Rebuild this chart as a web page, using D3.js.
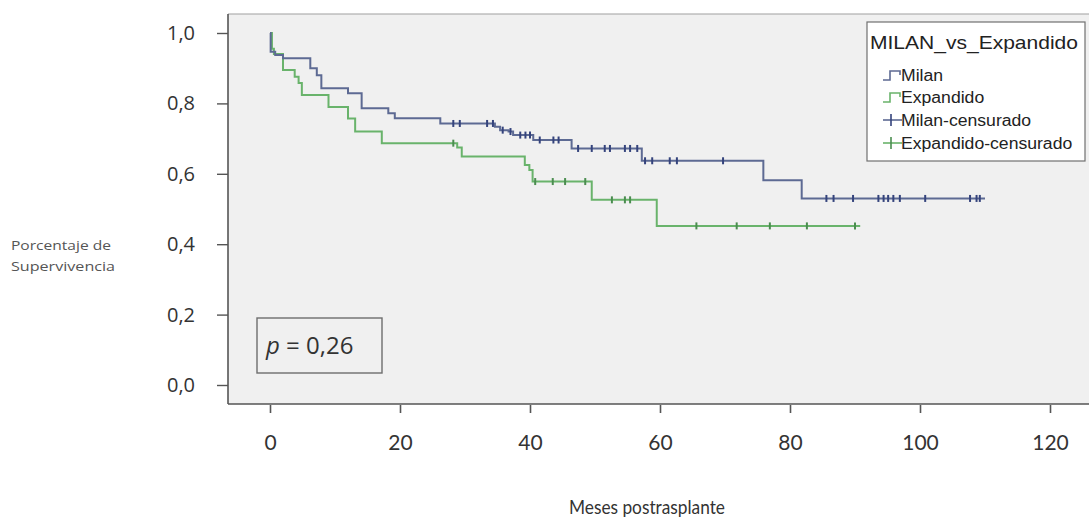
<!DOCTYPE html>
<html>
<head>
<meta charset="utf-8">
<script src="https://cdn.jsdelivr.net/npm/d3@7"></script>
<style>
  html, body { margin: 0; padding: 0; background: #ffffff; }
  svg { display: block; }
</style>
</head>
<body>
<svg id="chart" width="1089" height="520"></svg>
<script>
// ---- Data ----
const seriesNames = ["Milan", "Expandido"];
const legendTitle = "MILAN_vs_Expandido";
const legendLabels = ["Milan", "Expandido", "Milan-censurado", "Expandido-censurado"];

// Kaplan-Meier steps: [month, survival after step]
const milanSteps = [[0.1,0.947],[0.8,0.9375],[2.0,0.928],[6.2,0.90],[7.2,0.88],[7.9,0.843],[12.0,0.829],[14.1,0.786],[18.2,0.772],[19.2,0.758],[26.2,0.743],[34.6,0.734],[35.4,0.724],[36.7,0.72],[37.4,0.71],[40.5,0.696],[46.4,0.672],[57.2,0.637],[75.9,0.582],[81.8,0.530]];
const milanEnd = 110;
const milanCensored = [28.2,29.2,33.4,34.3,35.8,37.0,38.5,39.3,40.0,41.5,43.6,44.4,47.4,49.5,51.5,52.3,54.6,55.4,56.5,57.7,58.8,61.5,62.6,69.7,85.6,86.7,89.7,93.6,94.4,95.1,95.9,96.9,100.8,107.7,108.7,109.2];

const expSteps = [[0.3,0.955],[0.6,0.94],[2.0,0.895],[3.8,0.876],[4.4,0.858],[4.9,0.824],[9.0,0.79],[12.0,0.757],[13.1,0.72],[17.2,0.687],[28.8,0.675],[29.5,0.649],[39.2,0.625],[39.9,0.611],[40.4,0.578],[49.5,0.526],[59.5,0.452]];
const expEnd = 90.8;
const expCensored = [28.2,40.8,43.5,45.4,48.5,52.6,54.6,55.4,65.6,71.8,76.9,82.6,90.0];

const xTicks = [0, 20, 40, 60, 80, 100, 120];
const yTicks = [0, 0.2, 0.4, 0.6, 0.8, 1.0];
const yTickLabels = ["0,0", "0,2", "0,4", "0,6", "0,8", "1,0"];
const xTitle = "Meses postrasplante";
const yTitle = ["Porcentaje de", "Supervivencia"];
const pText = "0,26";

// ---- Layout ----
const svg = d3.select("#chart");
const frame = { left: 228, top: 14, right: 1089, bottom: 404 };
const x = d3.scaleLinear().domain([0, 120]).range([270, 1050]);
const y = d3.scaleLinear().domain([0, 1]).range([385, 33]);

const colors = { Milan: "#5d6a93", Expandido: "#69b36b" };
const markColors = { Milan: "#34437c", Expandido: "#4a8d4f" };

svg.append("rect").attr("width", 1089).attr("height", 520).attr("fill", "#ffffff");

// plot background
svg.append("rect")
  .attr("x", frame.left).attr("y", frame.top)
  .attr("width", frame.right - frame.left).attr("height", frame.bottom - frame.top)
  .attr("fill", "#f0f0f0");
svg.append("line").attr("x1", frame.left).attr("x2", frame.right)
  .attr("y1", frame.top).attr("y2", frame.top)
  .attr("stroke", "#a0a0a0").attr("stroke-width", 1.2);
svg.append("line").attr("x1", frame.left).attr("x2", frame.left)
  .attr("y1", frame.top).attr("y2", frame.bottom)
  .attr("stroke", "#555").attr("stroke-width", 1.6);
svg.append("line").attr("x1", frame.left).attr("x2", frame.right)
  .attr("y1", frame.bottom).attr("y2", frame.bottom)
  .attr("stroke", "#555").attr("stroke-width", 1.6);

// Y axis
const yAxis = d3.axisLeft(y).tickValues(yTicks)
  .tickFormat((d, i) => yTickLabels[i]).tickSizeInner(11).tickSizeOuter(0).tickPadding(22);
const gy = svg.append("g").attr("transform", `translate(${frame.left},0)`).call(yAxis);
gy.select(".domain").remove();
gy.selectAll(".tick line").attr("stroke", "#555").attr("stroke-width", 1.4);
gy.selectAll(".tick text").attr("fill", "#333")
  .style("font-family", "'Open Sans', sans-serif").style("font-size", "20px");

// X axis
const xAxis = d3.axisBottom(x).tickValues(xTicks).tickSizeInner(8).tickSizeOuter(0).tickPadding(22);
const gx = svg.append("g").attr("transform", `translate(0,${frame.bottom + 1})`).call(xAxis);
gx.select(".domain").remove();
gx.selectAll(".tick line").attr("stroke", "#555").attr("stroke-width", 1.6);
gx.selectAll(".tick text").attr("fill", "#333")
  .style("font-family", "Lato, sans-serif").style("font-size", "21px");

// Titles
svg.append("text").attr("x", 647).attr("y", 514).attr("text-anchor", "middle")
  .style("font-family", "Lato, sans-serif").style("font-size", "19px").attr("fill", "#333")
  .attr("textLength", 156).attr("lengthAdjust", "spacingAndGlyphs")
  .text(xTitle);
const yTitleLengths = [100, 104];
yTitle.forEach((t, i) => {
  svg.append("text").attr("x", 11).attr("y", 250 + i * 21)
    .style("font-family", "'Open Sans', sans-serif").style("font-size", "13px").attr("fill", "#555")
    .attr("textLength", yTitleLengths[i]).attr("lengthAdjust", "spacingAndGlyphs")
    .text(t);
});

// Curves
function survAt(steps, t) {
  let s = 1;
  for (const [st, sv] of steps) { if (st <= t) s = sv; else break; }
  return s;
}
const line = d3.line().x(d => x(d[0])).y(d => y(d[1])).curve(d3.curveStepAfter);
function drawSeries(name, steps, end, censored) {
  const pts = [[0, 1], ...steps, [end, steps[steps.length - 1][1]]];
  svg.append("path").datum(pts).attr("d", line)
    .attr("fill", "none").attr("stroke", colors[name]).attr("stroke-width", 2);
  svg.append("g").selectAll("line").data(censored).join("line")
    .attr("x1", d => x(d)).attr("x2", d => x(d))
    .attr("y1", d => y(survAt(steps, d)) - 3.5).attr("y2", d => y(survAt(steps, d)) + 3.5)
    .attr("stroke", markColors[name]).attr("stroke-width", 2);
}
drawSeries("Expandido", expSteps, expEnd, expCensored);
drawSeries("Milan", milanSteps, milanEnd, milanCensored);

// p-value box
svg.append("rect").attr("x", 257).attr("y", 318).attr("width", 125).attr("height", 55)
  .attr("fill", "#f0f0f0").attr("stroke", "#6d6d6d").attr("stroke-width", 1.4);
const pt = svg.append("text").attr("x", 266).attr("y", 354)
  .style("font-family", "'Open Sans', sans-serif").style("font-size", "24px").attr("fill", "#333");
pt.append("tspan").style("font-style", "italic").text("p");
pt.append("tspan").text(" = " + pText);

// Legend
const lg = svg.append("g");
lg.append("rect").attr("x", 867).attr("y", 22).attr("width", 218).attr("height", 139)
  .attr("fill", "#ffffff").attr("stroke", "#707070").attr("stroke-width", 1.2);
lg.append("text").attr("x", 870).attr("y", 49)
  .style("font-family", "'Liberation Sans', Arial, sans-serif").style("font-size", "19px")
  .attr("fill", "#222").attr("textLength", 208).attr("lengthAdjust", "spacingAndGlyphs")
  .text(legendTitle);
const rowY = [75, 97, 120, 143];
const legendKeys = ["Milan", "Expandido", "Milan", "Expandido"];
legendLabels.forEach((lab, i) => {
  const cy = rowY[i];
  const c = colors[legendKeys[i]];
  if (i < 2) {
    lg.append("path")
      .attr("d", `M883,${cy + 5} H890 V${cy - 4} H900 V${cy}`)
      .attr("fill", "none").attr("stroke", c).attr("stroke-width", 1.6);
  } else {
    lg.append("line").attr("x1", 883).attr("x2", 902).attr("y1", cy).attr("y2", cy)
      .attr("stroke", c).attr("stroke-width", 1.6);
    lg.append("line").attr("x1", 891).attr("x2", 891).attr("y1", cy - 6).attr("y2", cy + 6)
      .attr("stroke", markColors[legendKeys[i]]).attr("stroke-width", 1.6);
  }
  const t = lg.append("text").attr("x", 901).attr("y", cy + 6)
    .style("font-family", "'Liberation Sans', Arial, sans-serif").style("font-size", "16px")
    .attr("fill", "#222").text(lab);
  const w = t.node().getComputedTextLength();
  t.attr("textLength", w * 1.1).attr("lengthAdjust", "spacingAndGlyphs");
});
</script>
</body>
</html>
